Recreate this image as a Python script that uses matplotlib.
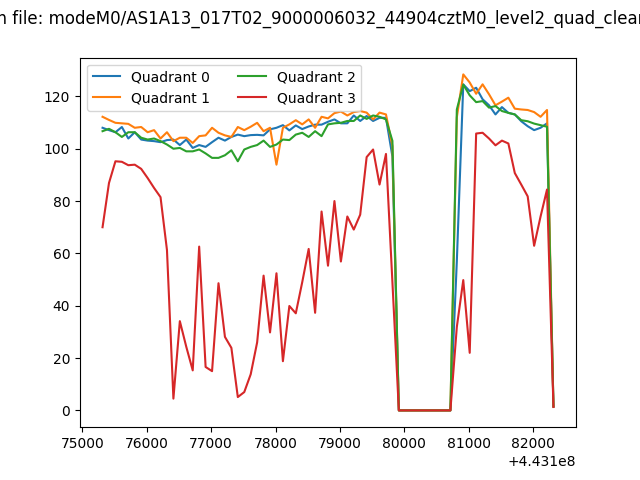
import numpy as np
import matplotlib
matplotlib.use('Agg')
import matplotlib.pyplot as plt

# time bins (seconds), 100 s step
t0 = 443175315
step = 100

q0 = [108.0, 107.1, 106.3, 108.3, 103.9, 106.3, 103.5, 103.1, 102.9, 102.5,
      103.3, 103.5, 101.4, 103.5, 100.3, 101.4, 100.7, 102.5, 104.2, 103.1,
      104.5, 105.4, 104.8, 105.2, 105.3, 105.1, 107.4, 108.0, 109.0, 107.0,
      108.9, 107.5, 108.5, 109.2, 109.2, 110.3, 111.2, 109.7, 109.7, 112.7,
      110.6, 112.5, 110.6, 111.8, 111.8, 97.0,
      0, 0, 0, 0, 0, 0, 0, 0, 0,
      57.0, 124.6, 122.0, 123.3, 118.9, 116.6, 113.1, 115.9, 113.7, 113.1,
      110.5, 108.6, 107.1, 108.0, 109.7, 1.5]

q1 = [112.2, 111.0, 109.9, 109.7, 109.5, 108.0, 108.3, 106.3, 107.1, 103.9,
      106.3, 102.9, 104.2, 104.2, 102.2, 104.8, 105.1, 108.0, 106.1, 105.1,
      104.5, 108.3, 107.1, 108.4, 109.9, 106.7, 108.0, 93.9, 108.0, 109.3,
      110.9, 109.3, 111.2, 108.0, 112.2, 111.6, 113.6, 114.2, 112.7, 114.0,
      114.4, 113.8, 111.2, 113.8, 113.1, 101.0,
      0, 0, 0, 0, 0, 0, 0, 0, 0,
      112.0, 128.4, 125.3, 121.0, 124.6, 120.8, 116.6, 118.0, 119.5, 115.3,
      115.0, 114.8, 114.0, 112.2, 114.8, 1.5]

q2 = [106.7, 107.6, 106.3, 104.5, 106.3, 106.3, 104.2, 103.5, 103.9, 102.9,
      101.6, 100.0, 100.3, 99.0, 99.0, 99.7, 98.2, 96.5, 96.5, 97.5,
      99.4, 95.2, 99.7, 100.7, 101.4, 103.1, 100.7, 101.6, 103.5, 103.3,
      105.4, 106.1, 104.5, 106.7, 104.8, 109.3, 109.7, 109.9, 110.6, 110.6,
      112.7, 111.4, 112.7, 112.2, 111.2, 103.0,
      0, 0, 0, 0, 0, 0, 0, 0, 0,
      115.0, 124.5, 120.4, 117.8, 118.2, 115.7, 116.3, 114.4, 113.7, 113.1,
      110.9, 110.5, 109.6, 109.0, 108.4, 1.5]

q3 = [70.0, 86.9, 95.2, 95.0, 93.7, 93.9, 92.3, 88.8, 85.0, 81.5,
      61.3, 4.5, 34.1, 24.3, 15.3, 62.6, 16.6, 15.0, 48.6, 28.1,
      23.9, 5.1, 7.0, 13.8, 26.0, 51.5, 29.8, 52.4, 18.8, 39.9,
      37.1, 49.0, 61.7, 37.3, 76.0, 55.3, 80.0, 56.9, 74.1, 69.1,
      74.8, 96.8, 99.7, 86.3, 98.0, 49.0,
      0, 0, 0, 0, 0, 0, 0, 0, 0,
      31.9, 49.8, 22.0, 105.8, 106.1, 103.9, 101.3, 103.1, 102.0, 90.7,
      86.3, 81.8, 62.9, 74.1, 84.4, 1.3]

time = t0 + step * np.arange(len(q0))

fig, ax = plt.subplots(figsize=(6.4, 4.8), dpi=100)
for i, q in enumerate([q0, q1, q2, q3]):
    ax.plot(time, q, label='Quadrant %d' % i)

ax.legend(loc='upper left', ncol=2)
fig.suptitle('Clean file: modeM0/AS1A13_017T02_9000006032_44904cztM0_level2_quad_clean.evt')

plt.savefig('out.png')
